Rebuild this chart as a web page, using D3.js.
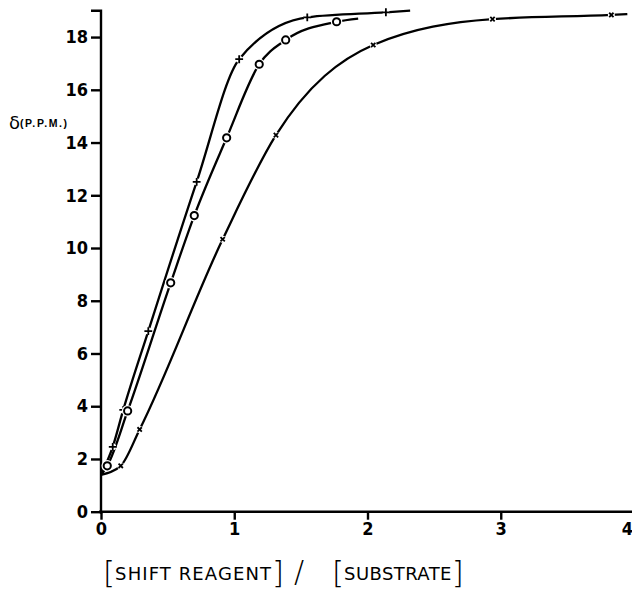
<!DOCTYPE html>
<html>
<head>
<meta charset="utf-8">
<script src="https://cdn.jsdelivr.net/npm/d3@7"></script>
<style>
  html, body { margin: 0; padding: 0; background: #fff; }
  svg { display: block; }
</style>
</head>
<body>
<svg id="chart" width="632" height="592"></svg>
<script>
// ---- data ----
const xTicks = [0, 1, 2, 3, 4];
const yTicks = [0, 2, 4, 6, 8, 10, 12, 14, 16, 18];
const startPoint = [0, 1.4];

// series 1: "+" markers (upper curve)
const plusX = [0.088, 0.167, 0.355, 0.718, 1.037, 1.548, 2.138];
const plusY = [2.46, 3.86, 6.85, 12.51, 17.16, 18.75, 18.94];
const plusEnd = [2.32, 19.0];

// series 2: open circle markers (middle curve)
const circX = [0.047, 0.2, 0.523, 0.70, 0.943, 1.1875, 1.386, 1.768];
const circY = [1.74, 3.82, 8.68, 11.23, 14.18, 16.97, 17.89, 18.58];
const circEnd = [1.93, 18.70];

// series 3: "x" markers (lower curve)
const crossX = [0.148, 0.29, 0.913, 1.313, 2.043, 2.938, 3.83];
const crossY = [1.74, 3.12, 10.33, 14.28, 17.7, 18.68, 18.84];
const crossEnd = [3.95, 18.87];

const yLabelSymbol = "δ";
const yLabelUnit = "(P.P.M.)";
const xLabelNum = "SHIFT REAGENT";
const xLabelDen = "SUBSTRATE";

// ---- layout ----
const svg = d3.select("#chart");
const x = d3.scaleLinear().domain([0, 4]).range([101, 634]);
const y = d3.scaleLinear().domain([0, 19]).range([511.7, 10.7]);

const tickFont = "'Liberation Sans Narrow', 'DejaVu Sans Condensed', 'Liberation Sans', sans-serif";

// x axis
const xAxis = svg.append("g")
  .attr("transform", `translate(0,${y(0)})`)
  .call(d3.axisBottom(x).tickValues(xTicks).tickFormat(d3.format("d")).tickSize(8).tickPadding(3));
xAxis.select(".domain").attr("d", `M${x(0) - 2},0H632`);
// keep the last tick label (at the right edge) inside the picture
xAxis.selectAll(".tick").filter(d => d === 4).select("text").attr("x", -7);
// y axis
const yAxis = svg.append("g")
  .attr("transform", `translate(${x(0)},0)`)
  .call(d3.axisLeft(y).tickValues(yTicks).tickFormat(d3.format("d")).tickSize(10).tickPadding(3));
yAxis.select(".domain").attr("d", `M-10,${y(19)}H0V${y(0) + 2}`);

[xAxis, yAxis].forEach(g => {
  g.selectAll("path, line").attr("stroke", "#000").attr("stroke-width", 2.4);
  g.selectAll("text")
    .attr("fill", "#000")
    .style("font-family", tickFont)
    .style("font-weight", "bold")
    .style("font-size", "18px");
});

// curves
const line = d3.line().x(d => x(d[0])).y(d => y(d[1])).curve(d3.curveMonotoneX);
function pts(xs, ys) { return xs.map((v, i) => [v, ys[i]]); }

const series = [
  { xs: plusX, ys: plusY, end: plusEnd, type: "plus" },
  { xs: circX, ys: circY, end: circEnd, type: "circle" },
  { xs: crossX, ys: crossY, end: crossEnd, type: "cross" }
];

const plot = svg.append("g");
series.forEach(s => {
  const data = [startPoint].concat(pts(s.xs, s.ys), [s.end]);
  plot.append("path")
    .datum(data)
    .attr("d", line)
    .attr("fill", "none")
    .attr("stroke", "#000")
    .attr("stroke-width", 2.3)
    .attr("stroke-linejoin", "round");
});

series.forEach(s => {
  const g = plot.append("g");
  const p = pts(s.xs, s.ys);
  // white gaps around markers
  g.selectAll("circle.halo").data(p).enter().append("circle")
    .attr("cx", d => x(d[0])).attr("cy", d => y(d[1]))
    .attr("r", s.type === "circle" ? 5.8 : 3.5)
    .attr("fill", "#fff");
  if (s.type === "circle") {
    g.selectAll("circle.m").data(p).enter().append("circle")
      .attr("cx", d => x(d[0])).attr("cy", d => y(d[1]))
      .attr("r", 3.6)
      .attr("fill", "#fff").attr("stroke", "#000").attr("stroke-width", 2);
  } else {
    const sym = s.type === "plus" ? d3.symbolPlus : d3.symbolX;
    g.selectAll("path.m").data(p).enter().append("path")
      .attr("transform", d => `translate(${x(d[0])},${y(d[1])})`)
      .attr("d", d3.symbol().type(sym).size(s.type === "plus" ? 22 : 14))
      .attr("fill", s.type === "plus" ? "#000" : "none")
      .attr("stroke", "#000").attr("stroke-width", 1.8);
  }
});

// y axis label
const yl = svg.append("text").attr("x", 9).attr("y", 129).attr("fill", "#000");
yl.append("tspan").text(yLabelSymbol)
  .style("font-family", "'DejaVu Sans', sans-serif").style("font-size", "18px");
yl.append("tspan").text(yLabelUnit).attr("dy", -2)
  .style("font-family", "'Liberation Sans', sans-serif").style("font-weight", "bold")
  .style("font-size", "10.5px").style("letter-spacing", "1.6px");

// x axis label
const labFont = "'DejaVu Sans', sans-serif";
function bracketLabel(x0, txt, spacing) {
  const t = svg.append("text").attr("x", x0).attr("y", 583).attr("fill", "#000")
    .style("font-family", labFont);
  t.append("tspan").text("[").style("font-size", "31px").style("font-weight", 300);
  t.append("tspan").text(txt).attr("dy", -3).style("font-size", "18px").style("font-weight", 400)
    .style("letter-spacing", spacing);
  t.append("tspan").text("]").attr("dy", 3).style("font-size", "31px").style("font-weight", 300);
}
bracketLabel(103, xLabelNum, "1.1px");
svg.append("text").attr("x", 294).attr("y", 582).attr("fill", "#000").text("/")
  .style("font-family", labFont).style("font-size", "30px").style("font-weight", 300);
bracketLabel(332, xLabelDen, "0.4px");
</script>
</body>
</html>
